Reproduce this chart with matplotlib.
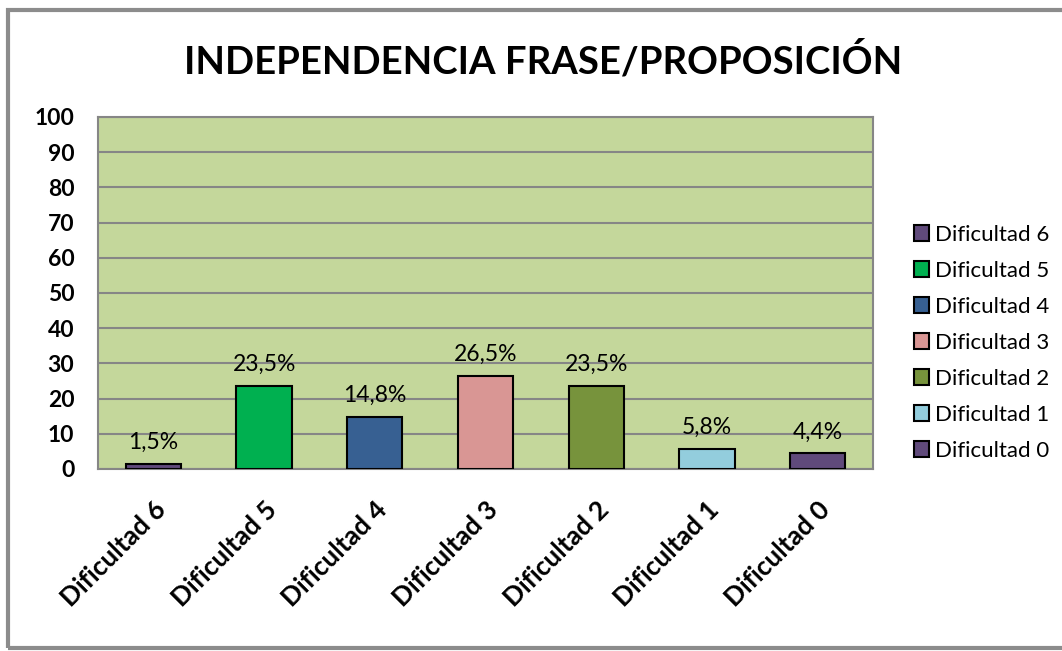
import matplotlib.pyplot as plt
from matplotlib.patches import Rectangle

categorias = ["Dificultad 6", "Dificultad 5", "Dificultad 4", "Dificultad 3",
              "Dificultad 2", "Dificultad 1", "Dificultad 0"]
valores = [1.5, 23.5, 14.8, 26.5, 23.5, 5.8, 4.4]
etiquetas = ["1,5%", "23,5%", "14,8%", "26,5%", "23,5%", "5,8%", "4,4%"]
colores = ["#604A7B", "#00B050", "#376092", "#D99694", "#77933C", "#93CDDD", "#604A7B"]

plt.rcParams['font.family'] = ['Lato', 'DejaVu Sans']

fig = plt.figure(figsize=(10.62, 6.51), dpi=100)
ax = fig.add_axes([0.0923, 0.2796, 0.7297, 0.5407])
ax.set_facecolor("#C4D79B")

xs = range(len(categorias))
barras = ax.bar(xs, valores, width=0.5, color=colores, edgecolor="black", linewidth=1.5,
                zorder=3)
for b, c in zip(barras, categorias):
    b.set_label(c)

for x, v, t in zip(xs, valores, etiquetas):
    ax.annotate(t, (x, v), xytext=(0, 8), textcoords="offset points",
                ha="center", va="bottom", fontsize=16.5, zorder=4)

ax.set_xlim(-0.5, len(categorias) - 0.5)
ax.set_ylim(0, 100)
ax.set_yticks(range(0, 101, 10))
ax.yaxis.grid(True, color="#868686", linewidth=1.5, zorder=0)
ax.tick_params(axis="y", length=0, pad=17, labelsize=16.5)
ax.tick_params(axis="x", length=0, pad=20)
for lab in ax.get_yticklabels():
    lab.set_fontweight("bold")
ax.set_xticks(list(xs))
ax.set_xticklabels(categorias, rotation=45, ha="right", rotation_mode="anchor",
                   fontsize=19, fontweight="bold")
for s in ax.spines.values():
    s.set_color("#868686")
    s.set_linewidth(1.5)

ax.set_title("INDEPENDENCIA FRASE/PROPOSICIÓN", fontsize=27.5, fontweight="bold",
             x=0.575, pad=31)

ax.legend(loc="upper left", bbox_to_anchor=(1.027, 0.75), frameon=False,
          fontsize=16, handlelength=0.7, handleheight=0.7, handletextpad=0.25,
          labelspacing=0.72)

fig.patches.append(Rectangle((0.008, 0.004), 1.1, 0.981, transform=fig.transFigure,
                             fill=False, edgecolor="#8C8C8C", linewidth=3))

fig.savefig("out.png", dpi=100)
